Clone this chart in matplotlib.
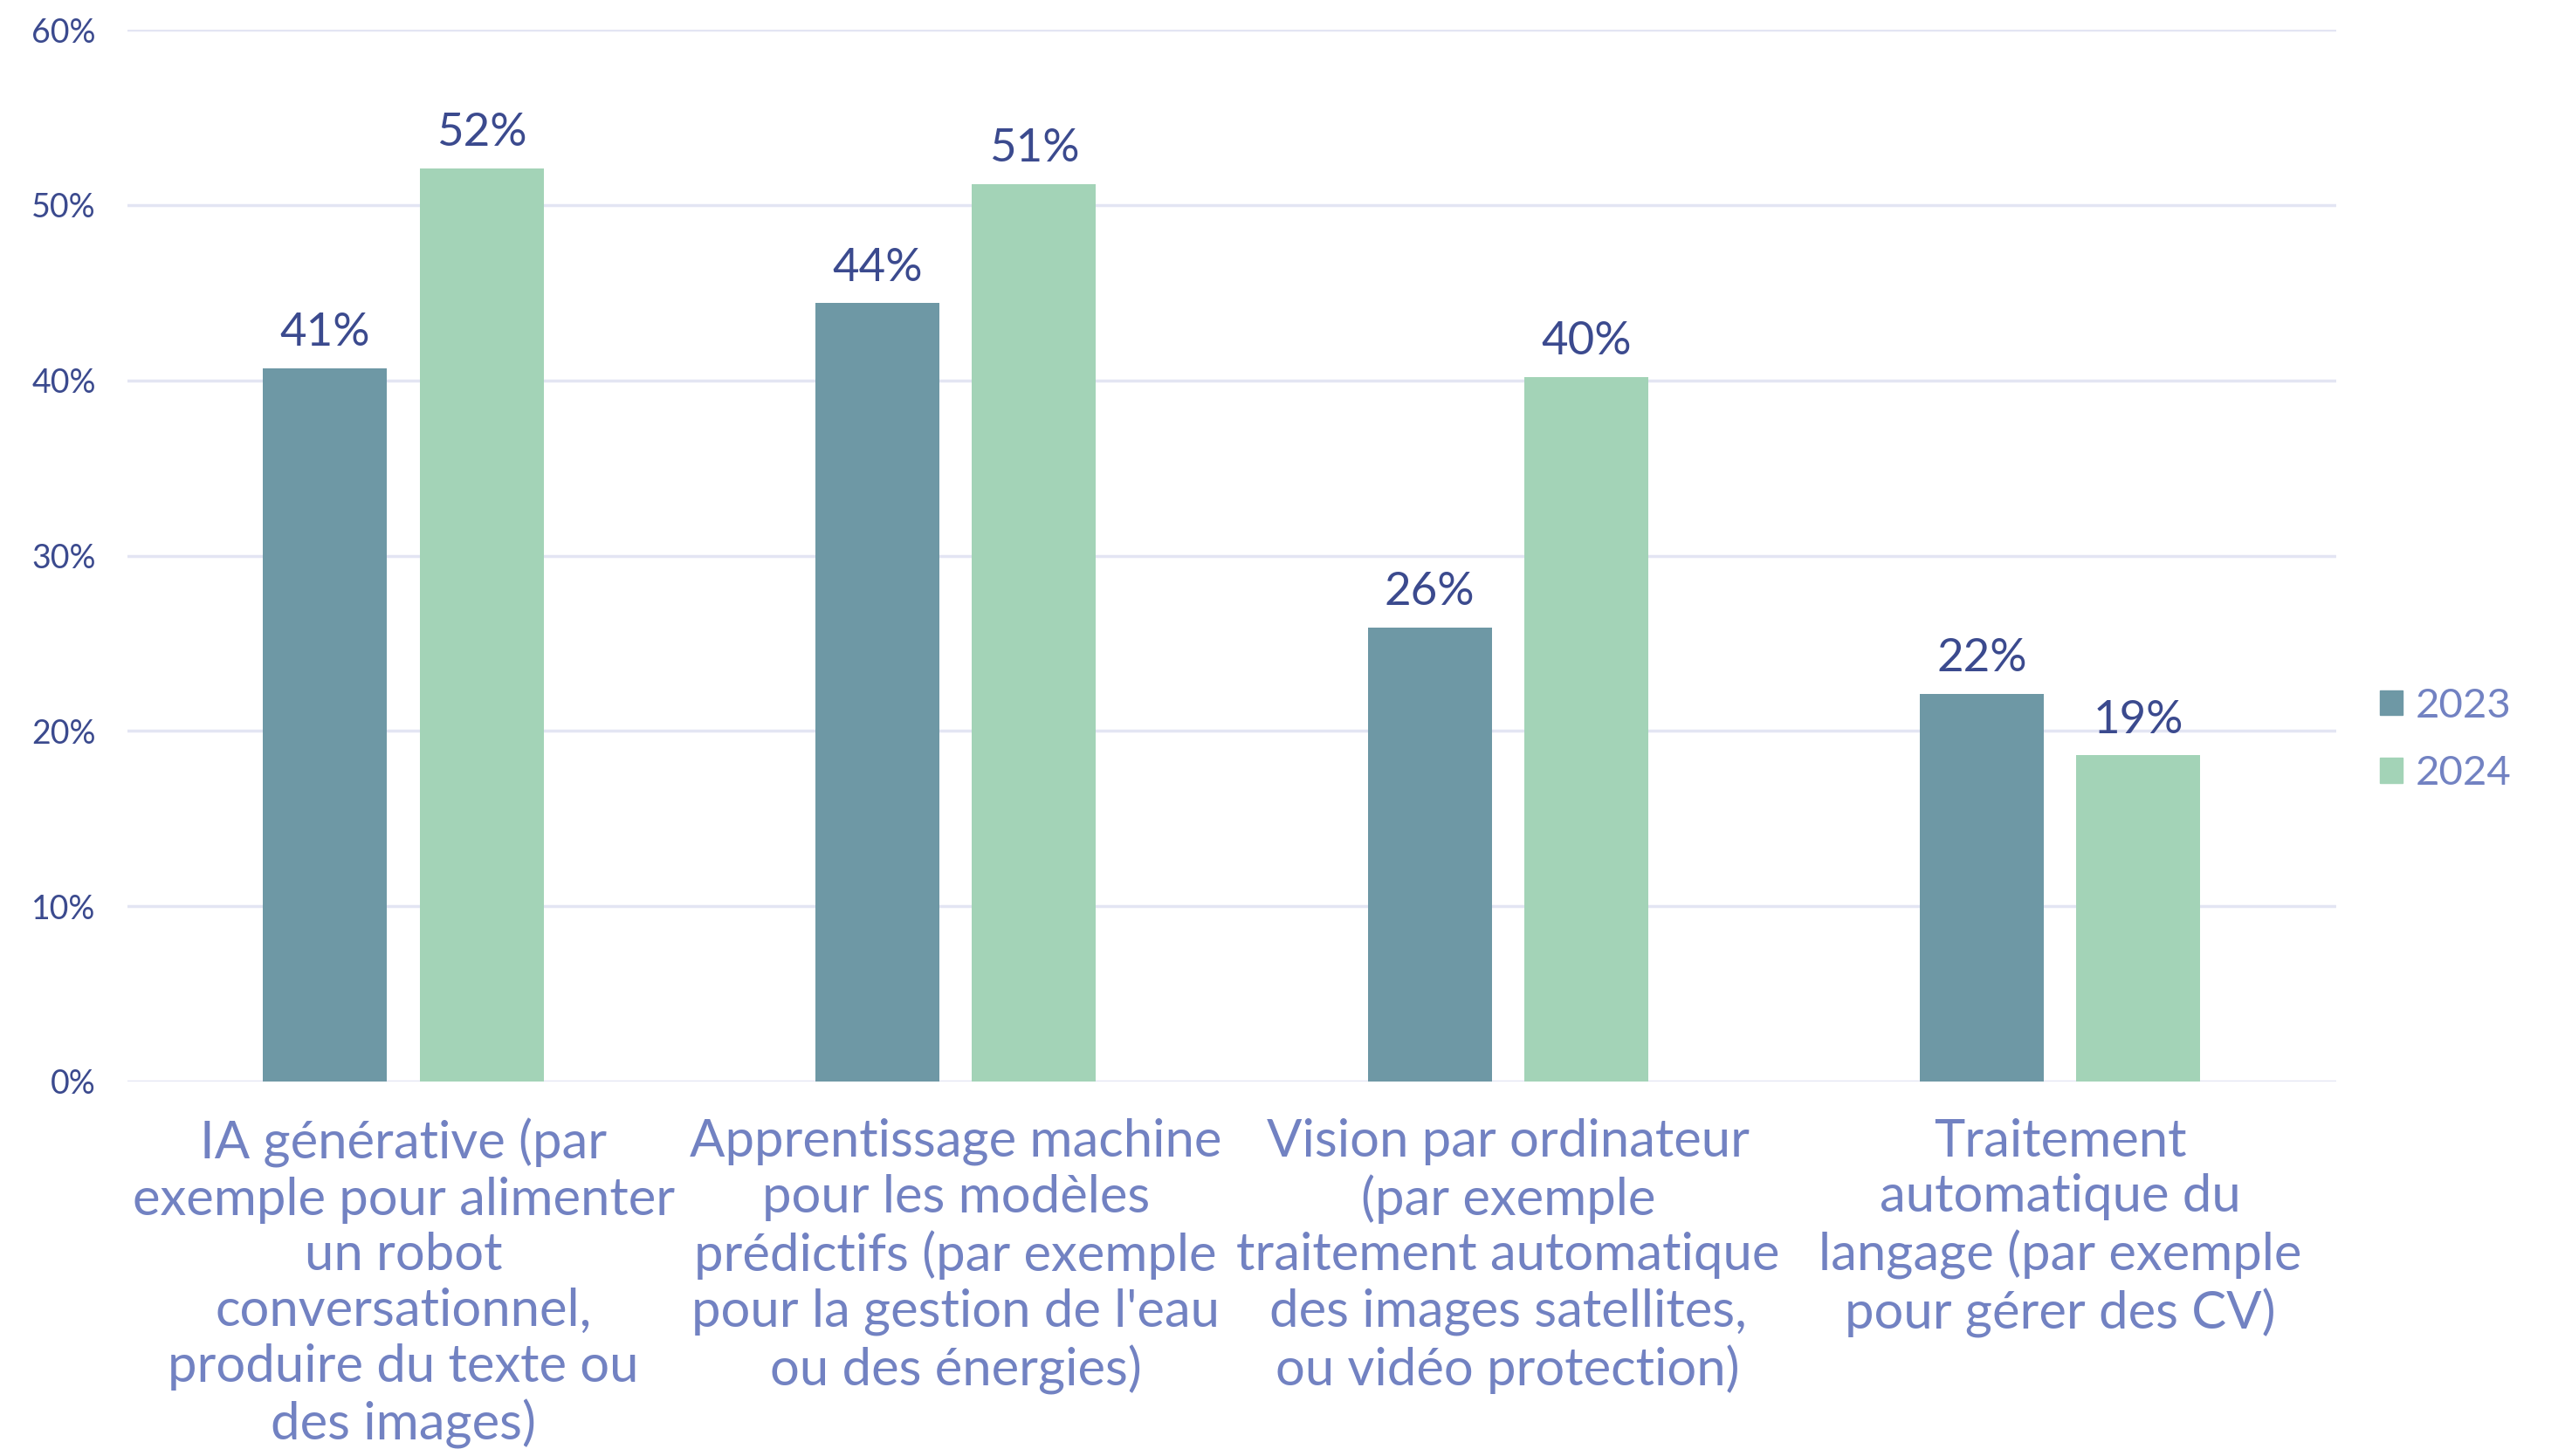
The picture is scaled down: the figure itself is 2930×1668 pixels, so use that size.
import numpy as np
import matplotlib
matplotlib.use("Agg")
import matplotlib.pyplot as plt
from matplotlib.patches import Patch

plt.rcParams["font.family"] = ["Lato", "DejaVu Sans"]

# data
categories = [
    "IA générative (par\nexemple pour alimenter\nun robot\nconversationnel,\nproduire du texte ou\ndes images)",
    "Apprentissage machine\npour les modèles\nprédictifs (par exemple\npour la gestion de l'eau\nou des énergies)",
    "Vision par ordinateur\n(par exemple\ntraitement automatique\ndes images satellites,\nou vidéo protection)",
    "Traitement\nautomatique du\nlangage (par exemple\npour gérer des CV)",
]
years = ["2023", "2024"]
vals_2023 = [40.7, 44.4, 25.9, 22.1]
vals_2024 = [52.1, 51.2, 40.2, 18.6]
yticks = [0, 10, 20, 30, 40, 50, 60]

# styles
col_2023 = "#6E98A5"
col_2024 = "#A3D3B7"
navy = "#3B4A8E"
lilac = "#7282C2"
gridcol = "#E3E5F3"

fig = plt.figure(figsize=(29.30, 16.68), dpi=100)
ax = fig.add_axes([0.0498, 0.2572, 0.9133 - 0.0498, 0.9796 - 0.2572])

x = np.arange(len(categories))
w = 0.2245
off = 0.1418
b1 = ax.bar(x - off, vals_2023, w, color=col_2023, zorder=3)
b2 = ax.bar(x + off, vals_2024, w, color=col_2024, zorder=3)

for bars, vals in [(b1, vals_2023), (b2, vals_2024)]:
    for r, v in zip(bars, vals):
        ax.annotate(f"{round(v):d}%", (r.get_x() + r.get_width() / 2, v),
                    xytext=(0, 12), textcoords="offset points",
                    ha="center", va="bottom", fontsize=38, color=navy)

ax.set_xlim(-0.5, 3.5)
ax.set_ylim(0, 60)
ax.set_yticks(yticks)
ax.set_yticklabels([f"{t}%" for t in yticks], fontsize=27, color=navy)
ax.set_xticks(x)
ax.set_xticklabels(categories, fontsize=43, color=lilac, linespacing=1.22)
ax.tick_params(axis="x", length=0, pad=30)
ax.tick_params(axis="y", length=0, pad=26)
ax.grid(axis="y", color=gridcol, linewidth=2.5, zorder=0)
for s in ax.spines.values():
    s.set_visible(False)

handles = [Patch(color=col_2023), Patch(color=col_2024)]
leg = fig.legend(handles, years, loc="center left", bbox_to_anchor=(0.916, 0.492),
                 frameon=False, fontsize=34, handlelength=0.55, handleheight=0.55,
                 handletextpad=0.3, labelspacing=0.75)
for t in leg.get_texts():
    t.set_color(lilac)

fig.savefig("out.png", dpi=100)
